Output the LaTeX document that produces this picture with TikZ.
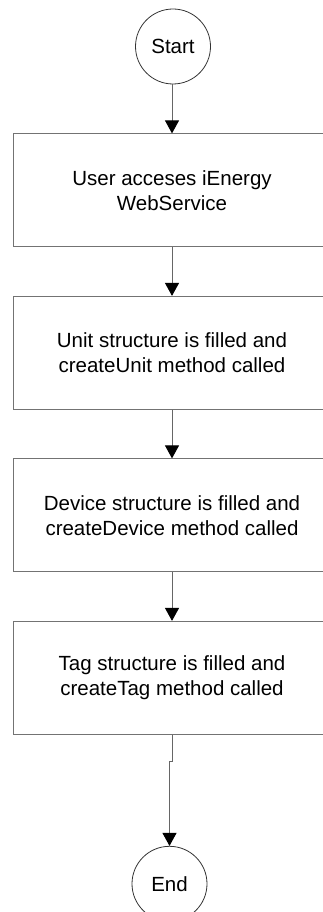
\documentclass[tikz,border=0pt]{standalone}
\usepackage{fontspec}
\setmainfont{Liberation Sans}
\usetikzlibrary{positioning,arrows.meta}
\tikzset{
    %Define style for the process boxes
    kasse/.style={
           rectangle,
           draw=black!55, line width=1pt,
           minimum width=318pt,
           minimum height=113pt,
           align=center,
           font=\fontsize{20.5pt}{25pt}\selectfont},
    % Define style for start and end
    rund/.style={
           circle,
           draw=black!80, line width=0.8pt,
           minimum size=75pt,
           inner sep=0pt,
           font=\fontsize{20.5pt}{25pt}\selectfont},
    % Define arrow style
    linje/.style={
           -{Triangle[width=14pt,length=13pt,color=black]},
           draw=black!60,
           line width=1pt}
}
\newcommand*{\steg}[3]{\node[kasse, below=48.5pt of #2] (#1) {#3};}

\begin{document}
\begin{tikzpicture}
\useasboundingbox (0,0) rectangle (323pt,-912pt);
% Start circle on top, then the boxes one below the other
\node[rund] (start) at (173pt,-46.5pt) {Start};
\node[kasse, below=49pt of start, xshift=-1pt] (bruker) {User acceses iEnergy\\WebService};
\steg{unit}{bruker}{Unit structure is filled and\\createUnit method called}
\steg{device}{unit}{Device structure is filled and\\createDevice method called}
\steg{tag}{device}{Tag structure is filled and\\createTag method called}
\node[rund, below=111pt of tag, xshift=-2.5pt] (slutt) {End};

% Bend point of the last connector
\coordinate[below=27pt of tag.south, xshift=-2.5pt] (knekk);

% Now connect the nodes
\draw[linje] (start.south -| bruker.north) -- (bruker.north);
\draw[linje] (bruker.south) -- (unit.north);
\draw[linje] (unit.south) -- (device.north);
\draw[linje] (device.south) -- (tag.north);
\draw[linje] (tag.south) |- (knekk) -- (slutt.north);
\end{tikzpicture}
\end{document}
